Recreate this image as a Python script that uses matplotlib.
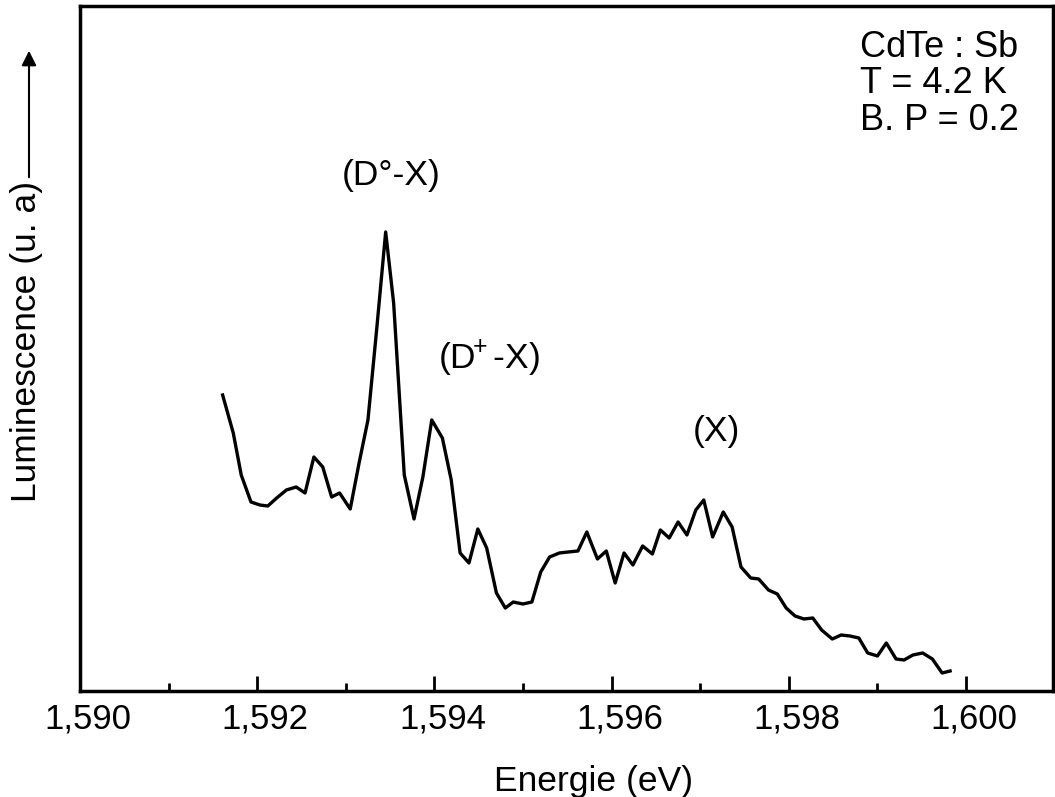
import numpy as np
import matplotlib
matplotlib.use("Agg")
import matplotlib.pyplot as plt
from matplotlib.ticker import MultipleLocator
from matplotlib.transforms import ScaledTranslation

plt.rcParams['font.family'] = ['Liberation Sans', 'DejaVu Sans']
plt.rcParams['mathtext.fontset'] = 'custom'
plt.rcParams['mathtext.rm'] = 'Liberation Sans'

# spectre (energie en eV, luminescence en unites arbitraires)
energie = [1.59161, 1.59173, 1.59182, 1.59193, 1.59203, 1.59212, 1.59222, 1.59233,
           1.59244, 1.59254, 1.59264, 1.59274, 1.59284, 1.59293, 1.59305, 1.59315,
           1.59325, 1.59335, 1.59345, 1.59354, 1.59366, 1.59377, 1.59387, 1.59397,
           1.59409, 1.59419, 1.59429, 1.59439, 1.59449, 1.59459, 1.59470, 1.59480,
           1.59489, 1.59500, 1.59510, 1.59520, 1.59530, 1.59541, 1.59551, 1.59562,
           1.59572, 1.59584, 1.59594, 1.59604, 1.59614, 1.59624, 1.59635, 1.59646,
           1.59655, 1.59665, 1.59675, 1.59685, 1.59695, 1.59704, 1.59714, 1.59726,
           1.59736, 1.59746, 1.59757, 1.59766, 1.59777, 1.59787, 1.59797, 1.59807,
           1.59817, 1.59827, 1.59837, 1.59849, 1.59859, 1.59869, 1.59879, 1.59889,
           1.59900, 1.59910, 1.59921, 1.59930, 1.59940, 1.59951, 1.59962, 1.59973,
           1.59982]
lum = [296, 258, 216, 189, 186, 185, 193, 201,
       204, 198, 234, 224, 194, 198, 182, 228,
       271, 363, 459, 388, 216, 172, 214, 271,
       253, 211, 138, 128, 162, 143, 98, 83,
       89, 87, 89, 119, 134, 138, 139, 140,
       159, 132, 140, 108, 138, 126, 145, 137,
       161, 153, 169, 156, 181, 191, 154, 179,
       164, 124, 113, 112, 101, 97, 83, 75,
       72, 73, 61, 52, 56, 55, 53, 38,
       35, 48, 32, 31, 36, 38, 32, 18,
       20]

xticks = [1.590, 1.592, 1.594, 1.596, 1.598, 1.600]
xtick_labels = ["1,590", "1,592", "1,594", "1,596", "1,598", "1,600"]

W, H = 1055, 797
fig = plt.figure(figsize=(W / 100, H / 100), dpi=100)
ax = fig.add_axes([0.0758, 0.133, 0.9222, 0.8595])

ax.plot(energie, lum, color='black', linewidth=2.4)

ax.set_xlim(1.590, 1.60098)
ax.set_ylim(0, 685)
ax.set_xticks(xticks)
ax.set_xticklabels(xtick_labels, fontsize=25)
ax.xaxis.set_minor_locator(MultipleLocator(0.001))
ax.tick_params(axis='x', which='major', direction='in', length=11, width=2, pad=8)
ax.tick_params(axis='x', which='minor', direction='in', length=5.5, width=2)
ax.set_yticks([])
for s in ax.spines.values():
    s.set_linewidth(2.5)

# les etiquettes sont un peu decalees vers la droite dans l'original
decal = ScaledTranslation(8 / 100, 0, fig.dpi_scale_trans)
for lab in ax.get_xticklabels():
    lab.set_transform(lab.get_transform() + decal)

ax.set_xlabel("Energie (eV)", fontsize=25.5)
ax.xaxis.set_label_coords(0.528, -0.108)

# label y avec fleche
fig.text(27 / W, 1 - 341 / H, "Luminescence (u. a)", rotation=90,
         fontsize=25.5, ha='center', va='center')
fig.add_artist(matplotlib.patches.FancyArrowPatch(
    (29 / W, 1 - 180 / H), (29 / W, 1 - 48 / H),
    transform=fig.transFigure, arrowstyle='-|>', mutation_scale=22,
    color='black', linewidth=1.5))

fig.text(860 / W, 1 - 30 / H, "CdTe : Sb\nT = 4.2 K\nB. P = 0.2",
         fontsize=26, ha='left', va='top', linespacing=1.05)
fig.text(391 / W, 1 - 176 / H, "(D°-X)", fontsize=25.5, ha='center', va='center')
fig.text(489 / W, 1 - 357 / H, "(D$^{\\!\\!+}$-X)", fontsize=25.5, ha='center', va='center')
fig.text(716 / W, 1 - 432 / H, "(X)", fontsize=25.5, ha='center', va='center')

fig.savefig("out.png", dpi=100)
